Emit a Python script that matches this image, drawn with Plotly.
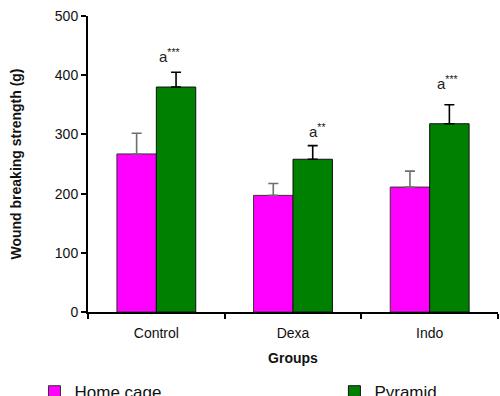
import plotly.graph_objects as go

# Wound breaking strength (g), mean ± SEM per treatment group
groups = ["Control", "Dexa", "Indo"]
home_cage = [267, 197, 211]
home_cage_err = [35, 20, 27]
pyramid = [380, 258, 318]
pyramid_err = [25, 23, 32]

# Significance marks above the Pyramid bars
sig_labels = ["a<sup>***</sup>", "a<sup>**</sup>", "a<sup>***</sup>"]
sig_label_y = [434, 307, 388]
sig_label_shift = [13, 24, 18]

FONT = "Liberation Sans, Arial, sans-serif"
LEGEND_FONT = dict(family=FONT, size=17, color="#111111")

fig = go.Figure()
fig.add_trace(go.Bar(
    name="Home cage", x=groups, y=home_cage, legend="legend",
    marker=dict(color="#FF00FF", line=dict(color="#333333", width=1)),
    error_y=dict(type="data", array=home_cage_err, symmetric=False,
                 arrayminus=[0] * len(groups),
                 color="#6e6e6e", thickness=1.6, width=5),
))
fig.add_trace(go.Bar(
    name="Pyramid", x=groups, y=pyramid, legend="legend2",
    marker=dict(color="#008000", line=dict(color="#111111", width=1)),
    error_y=dict(type="data", array=pyramid_err, symmetric=False,
                 arrayminus=[0] * len(groups),
                 color="#000000", thickness=1.6, width=5),
))

for g, lab, ly, sh in zip(groups, sig_labels, sig_label_y, sig_label_shift):
    fig.add_annotation(x=g, y=ly, text=lab, showarrow=False, xshift=sh,
                       font=dict(family=FONT, size=15, color="#222222"))

fig.update_layout(
    width=500, height=396,
    margin=dict(l=88, r=2, t=16, b=84, autoexpand=False),
    plot_bgcolor="white", paper_bgcolor="white",
    barmode="group", bargap=0.423, bargroupgap=0,
    font=dict(family=FONT, size=14, color="#111111"),
    showlegend=True,
    legend=dict(orientation="h", x=-0.1305, xanchor="left",
                y=-0.21, yanchor="top", font=LEGEND_FONT,
                bgcolor="rgba(0,0,0,0)"),
    legend2=dict(orientation="h", x=0.601, xanchor="left",
                 y=-0.21, yanchor="top", font=LEGEND_FONT,
                 bgcolor="rgba(0,0,0,0)"),
)
fig.update_xaxes(
    showline=True, linecolor="black", linewidth=2,
    ticks="outside", tickson="boundaries", ticklen=5, tickwidth=1.5,
    tickcolor="black", showgrid=False, ticklabelstandoff=7,
    title=dict(text="<b>Groups</b>", standoff=13,
               font=dict(family=FONT, size=14, color="#111111")),
)
fig.update_yaxes(
    range=[0, 500], tickvals=[0, 100, 200, 300, 400, 500],
    showline=True, linecolor="black", linewidth=2,
    ticks="outside", ticklen=5, tickwidth=1.5, tickcolor="black",
    showgrid=False, zeroline=False,
    title=dict(text="<b>Wound breaking strength (g)</b>", standoff=30,
               font=dict(family=FONT, size=14, color="#111111")),
)

fig.write_html("out.html")
